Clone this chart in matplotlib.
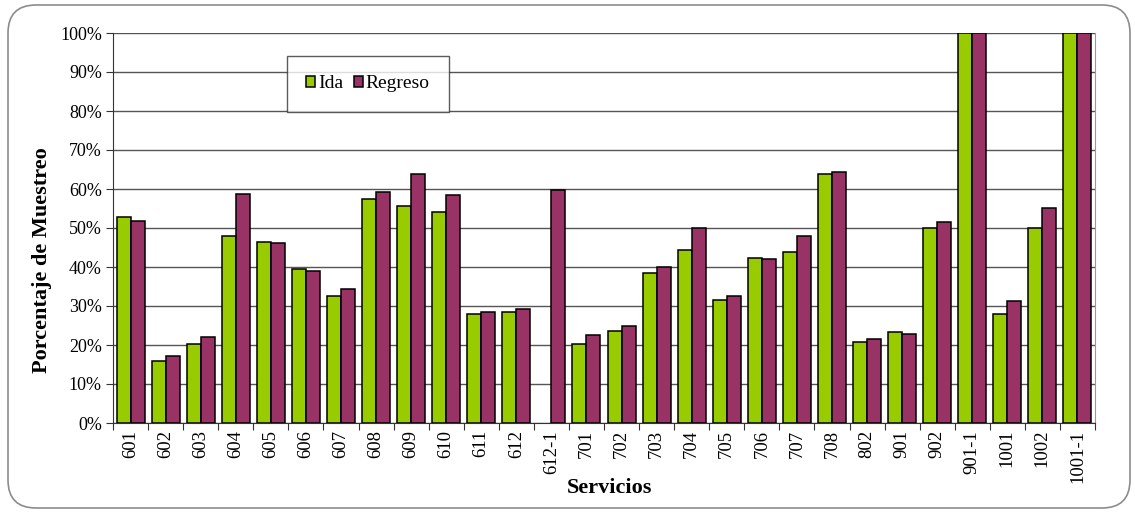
import numpy as np
import matplotlib
matplotlib.use('Agg')
import matplotlib.pyplot as plt
from matplotlib.patches import FancyBboxPatch
from matplotlib.ticker import PercentFormatter

servicios = ['601', '602', '603', '604', '605', '606', '607', '608', '609', '610',
             '611', '612', '612-1', '701', '702', '703', '704', '705', '706', '707',
             '708', '802', '901', '902', '901-1', '1001', '1002', '1001-1']
ida = [52.7, 15.8, 20.3, 48.0, 46.3, 39.6, 32.5, 57.5, 55.6, 54.1,
       28.0, 28.4, 0.0, 20.3, 23.7, 38.4, 44.4, 31.5, 42.3, 43.9,
       63.9, 20.8, 23.4, 50.0, 100.0, 27.9, 50.0, 100.0]
regreso = [51.7, 17.2, 22.1, 58.8, 46.1, 39.1, 34.4, 59.2, 63.9, 58.5,
           28.5, 29.3, 59.8, 22.6, 24.8, 40.0, 49.9, 32.5, 42.0, 48.0,
           64.4, 21.6, 22.9, 51.5, 100.0, 31.2, 55.1, 100.0]

plt.rcParams['font.family'] = ['Liberation Serif', 'DejaVu Serif']

fig = plt.figure(figsize=(11.35, 5.12), dpi=100)
ax = fig.add_axes([113 / 1135, 1 - 423 / 512, (1095 - 113) / 1135, (423 - 33) / 512])

# marco redondeado de la diapositiva
marco = FancyBboxPatch((8, 4), 1122, 503, boxstyle='round,pad=0,rounding_size=28',
                       transform=None, fill=False, edgecolor='#8c8c8c', linewidth=1.2,
                       zorder=0)
fig.patches.append(marco)

x = np.arange(len(servicios))
w = 0.4
barras_ida = ax.bar(x - w / 2, ida, w, color='#99CC00', edgecolor='black',
                    linewidth=1.1, label='Ida', zorder=3)
ax.bar(x + w / 2, regreso, w, color='#993366', edgecolor='black', linewidth=1.1,
       label='Regreso', zorder=3)
# sin barra cuando el valor es cero
for b, v in zip(barras_ida, ida):
    if v == 0:
        b.set_visible(False)

ax.set_xlim(-0.5, len(servicios) - 0.5)
ax.set_ylim(0, 100)
ax.set_yticks(np.arange(0, 101, 10))
ax.yaxis.set_major_formatter(PercentFormatter(decimals=0))
ax.grid(axis='y', color='#555555', linewidth=1.0, zorder=0)

# etiquetas centradas, marcas en los limites de categoria
ax.set_xticks(np.arange(-0.5, len(servicios), 1.0))
ax.set_xticklabels([])
ax.set_xticks(x, minor=True)
ax.set_xticklabels(servicios, minor=True, rotation=90, fontsize=13.5)
ax.tick_params(axis='x', which='minor', length=0, pad=5)
ax.tick_params(axis='x', which='major', length=5, color='#333333')
ax.tick_params(axis='y', length=5, labelsize=13, color='#333333', pad=3)

ax.spines['top'].set_visible(False)
ax.spines['right'].set_color('#999999')
ax.spines['left'].set_color('#333333')
ax.spines['bottom'].set_color('#333333')

ax.set_xlabel('Servicios', fontsize=16, fontweight='bold')
ax.set_ylabel('Porcentaje de Muestreo', fontsize=16, fontweight='bold')
ax.xaxis.set_label_coords(0.506, -0.14)
ax.yaxis.set_label_coords(-0.062, 0.418)

leg = ax.legend(loc='upper left', bbox_to_anchor=(174 / 982, 1 - 23 / 390), ncol=2,
                fontsize=14, frameon=True, fancybox=False, edgecolor='#333333',
                handlelength=0.45, handleheight=0.45, handletextpad=0.15,
                columnspacing=0.55, borderpad=1.0, borderaxespad=0)
leg.get_frame().set_linewidth(1.0)
leg.set_zorder(5)

fig.savefig('out.png', dpi=100)
